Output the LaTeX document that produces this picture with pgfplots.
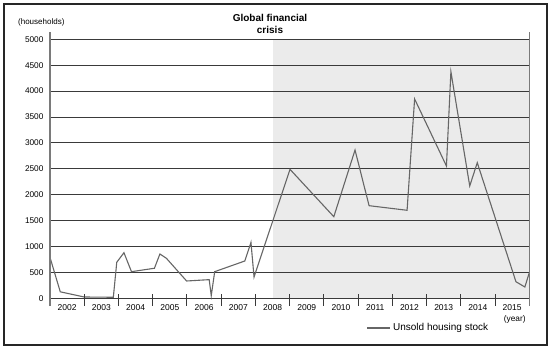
\documentclass[border=0pt]{standalone}
\usepackage{fontspec}
\setmainfont{Liberation Sans}
\usepackage{pgfplots}
\pgfplotsset{compat=1.18}
\definecolor{gridc}{HTML}{3A3A3A}
\definecolor{linec}{HTML}{666666}
\definecolor{shadec}{HTML}{EBEBEB}
\definecolor{axc}{HTML}{7A7A7A}
\begin{document}
\begin{tikzpicture}
\begin{axis}[
  set layers,
  scale only axis,
  width=479.3pt, height=259pt,
  xmin=2002, xmax=2016,
  ymin=0, ymax=5000,
  clip=false,
  axis line style={draw=none},
  /pgf/number format/assume math mode=true,
  /pgf/number format/1000 sep={},
  ytick={0,500,...,5000},
  yticklabel style={font=\fontsize{8.3}{10}\selectfont, xshift=-3pt},
  ymajorgrids,
  grid style={gridc, line width=0.9pt},
  major tick length=0pt,
  xtick={2002.5,2003.5,...,2015.5},
  xticklabels={2002,2003,2004,2005,2006,2007,2008,2009,2010,2011,2012,2013,2014,2015},
  xticklabel style={font=\fontsize{8.5}{10}\selectfont, yshift=-2.5pt},
  legend style={at={(0.789,-0.1135)}, anchor=center, draw=none, fill=none, font=\fontsize{10}{12}\selectfont},
  legend image code/.code={\draw[linec, line width=2pt] (0pt,0pt) -- (23pt,0pt);},
]
\begin{pgfonlayer}{axis background}
\fill[shadec] (axis cs:2008.5,0) rectangle (axis cs:2016,5000);
\end{pgfonlayer}
\addplot[linec, line width=1.1pt, mark=none] coordinates {
(2002.00,790) (2002.30,125) (2003.00,25) (2003.85,20) (2003.95,695)
(2004.16,880) (2004.38,514) (2005.05,580) (2005.21,855) (2005.40,772)
(2005.99,334) (2006.65,360) (2006.71,50) (2006.81,514) (2007.69,720)
(2007.87,1080) (2007.96,410) (2009.01,2490) (2010.29,1575) (2010.91,2863)
(2011.32,1788) (2012.43,1699) (2012.65,3848) (2013.58,2554) (2013.71,4375)
(2014.26,2168) (2014.48,2618) (2015.61,320) (2015.87,218) (2016.00,494)
};
\addlegendentry{Unsold housing stock}
\pgfplotsinvokeforeach{2003,...,2015}{
  \draw[gridc, line width=0.9pt] (axis cs:#1,0) ++(0pt,4pt) -- ++(0pt,-11.4pt);
}
\draw[axc, line width=1.5pt] (axis cs:2002,-150) -- (axis cs:2002,5140);
\draw[axc, line width=1.5pt] (axis cs:2016,-150) -- (axis cs:2016,5140);
\end{axis}
\node[font=\bfseries\fontsize{10}{12}\selectfont, align=center] at (220pt,274.5pt) {Global financial\\crisis};
\node[font=\fontsize{8}{10}\selectfont] at (-8.7pt,276.3pt) {(households)};
\node[font=\fontsize{8.3}{10}\selectfont] at (464.7pt,-21.5pt) {(year)};
\draw[black!85, line width=1.5pt] (-46pt,-46.7pt) rectangle (497pt,294.3pt);
\pgfresetboundingbox
\path (-50pt,-51.7pt) rectangle (500pt,298.3pt);
\end{tikzpicture}
\end{document}
